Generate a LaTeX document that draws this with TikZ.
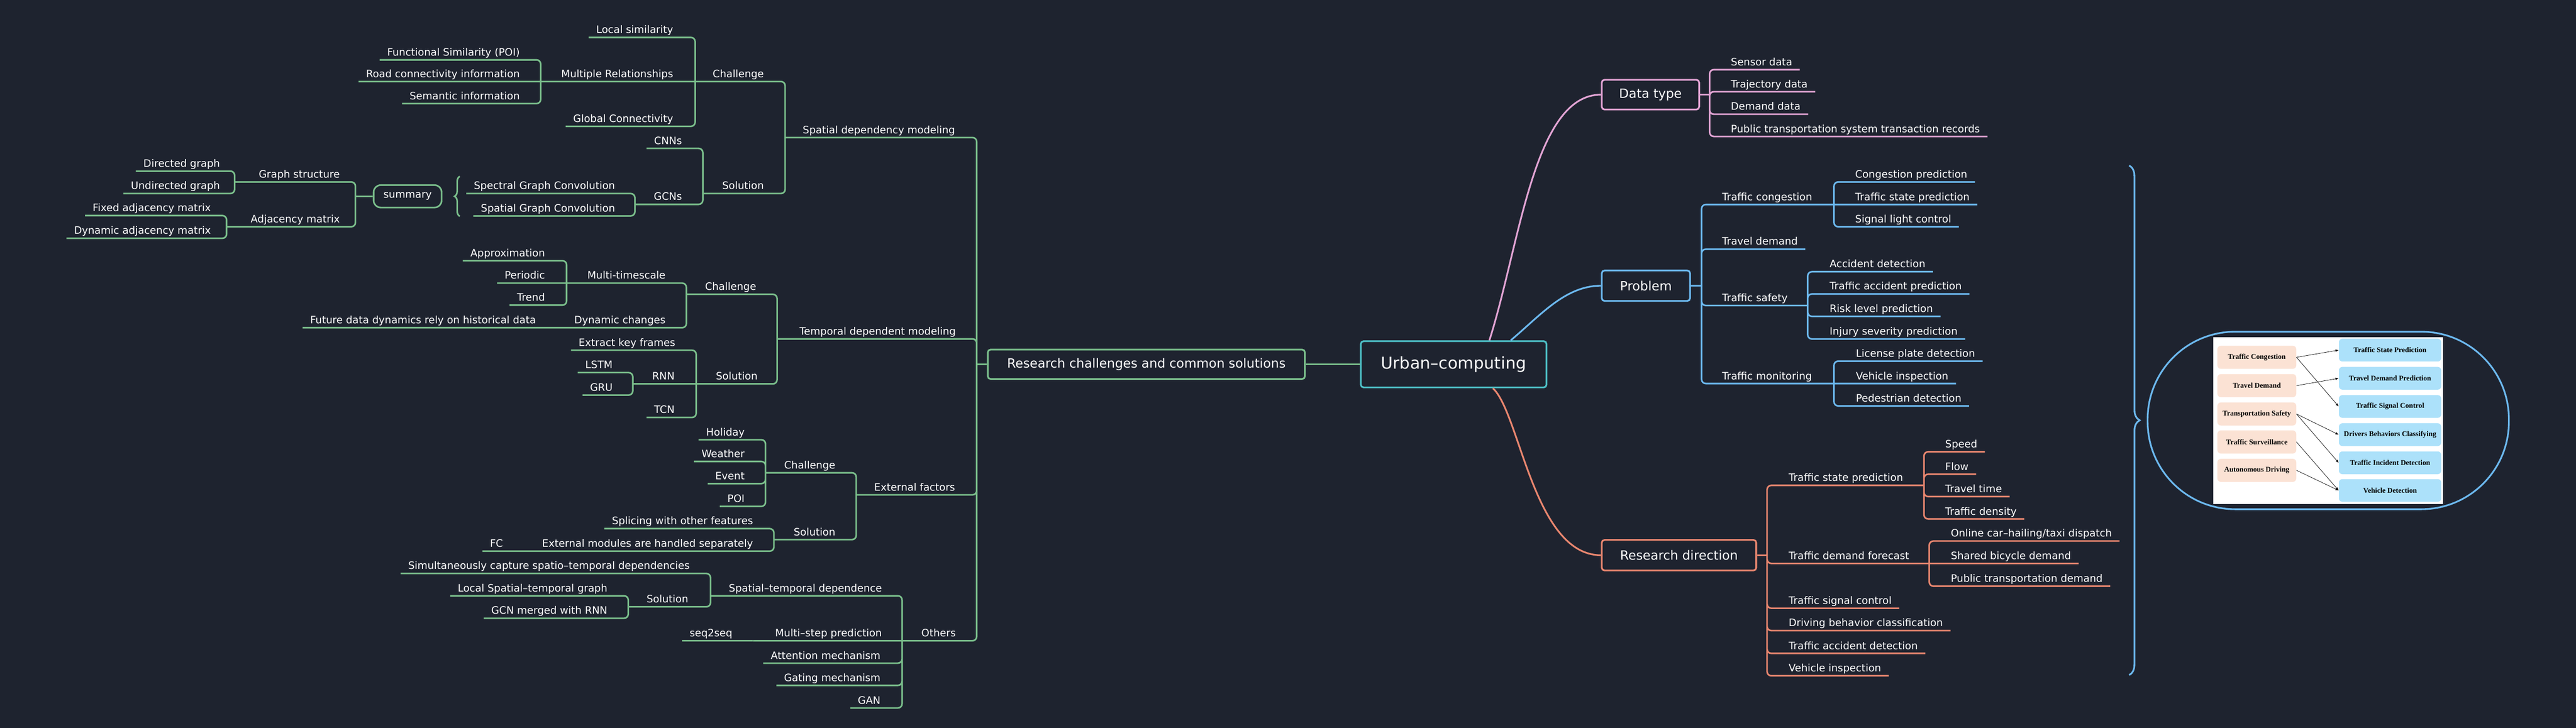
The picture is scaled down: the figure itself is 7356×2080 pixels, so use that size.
\documentclass[tikz,border=0pt]{standalone}
\usepackage{fontspec}
\setmainfont{DejaVu Sans}
\newfontfamily\imgfont{Liberation Serif}
\usepackage{tikz}
\usetikzlibrary{positioning}
\usetikzlibrary{decorations.pathreplacing}
\usetikzlibrary{arrows.meta}
\usepackage{color}
\definecolor{bgc}{RGB}{30,35,47}
\definecolor{grn}{RGB}{122,190,139}
\definecolor{tealc}{RGB}{77,190,197}
\definecolor{pnk}{RGB}{226,164,212}
\definecolor{blu}{RGB}{108,184,238}
\definecolor{org}{RGB}{232,134,111}
\definecolor{peach}{RGB}{251,226,212}
\definecolor{skyb}{RGB}{172,225,250}

\begin{document}
\begin{tikzpicture}[x=0.01cm, y=-0.01cm,
    lbl/.style={text=white, font=\fontsize{8.3}{10}\selectfont, inner xsep=0.21cm, inner ysep=0.04cm, text height=0.22cm, text depth=0.07cm},
    lt/.style={lbl, anchor=south east},
    rt/.style={lbl, anchor=south west},
    topic/.style={draw, line width=1.4pt, rounded corners=0.08cm, fill=bgc, text=white, font=\fontsize{10.3}{12}\selectfont, inner sep=0},
    br/.style={line width=1.3pt, rounded corners=0.12cm},
    pk/.style={fill=peach, rounded corners=0.1cm, minimum width=2.25cm, minimum height=0.66cm, inner sep=0, font=\imgfont\bfseries\fontsize{5.9}{7}\selectfont},
    sk/.style={fill=skyb, rounded corners=0.1cm, minimum width=2.92cm, minimum height=0.65cm, inner sep=0, font=\imgfont\bfseries\fontsize{5.9}{7}\selectfont}]
    \useasboundingbox (0,0) rectangle (7356,2080);
    \fill[bgc] (0,0) rectangle (7356,2080);

    % main topics
    \node[topic, draw=tealc, minimum width=5.3cm, minimum height=1.32cm, font=\fontsize{13.3}{16}\selectfont] (root) at (4151,1041) {Urban–computing};
    \node[topic, draw=grn, minimum width=9.05cm, minimum height=0.84cm] (rc) at (3273.5,1041) {Research challenges and common solutions};
    \node[topic, draw=pnk, minimum width=2.78cm, minimum height=0.85cm] (dt) at (4713,270.5) {Data type};
    \node[topic, draw=blu, minimum width=2.52cm, minimum height=0.87cm] (pb) at (4700,816.5) {Problem};
    \node[topic, draw=org, minimum width=4.41cm, minimum height=0.87cm] (rd) at (4794.5,1586.5) {Research direction};

    % spatial dependency modeling
    \node[lt] (sdm) at (2749,393) {Spatial dependency modeling};
    \node[lt] (c1) at (2203,233) {Challenge};
    \node[lt] (ls) at (1944,107) {Local similarity};
    \node[lt] (mr) at (1944,233) {Multiple Relationships};
    \node[lt] (fs) at (1506,171) {Functional Similarity (POI)};
    \node[lt] (rci) at (1506,233) {Road connectivity information};
    \node[lt] (si) at (1506,296) {Semantic information};
    \node[lt] (gc) at (1944,361) {Global Connectivity};
    \node[lt] (s1) at (2203,553) {Solution};
    \node[lt] (cnn) at (1969,424) {CNNs};
    \node[lt] (gcn) at (1969,584) {GCNs};
    \node[lt] (sgc1) at (1778,553) {Spectral Graph Convolution};
    \node[lt] (sgc2) at (1778,617) {Spatial Graph Convolution};
    \node[draw=grn, line width=1.3pt, rounded corners=0.2cm, text=white, font=\fontsize{8.3}{10}\selectfont, minimum width=1.94cm, minimum height=0.64cm, inner sep=0] (sum) at (1164,561) {summary};
    \node[lt] (gs) at (992,520) {Graph structure};
    \node[lt] (dg) at (650,489) {Directed graph};
    \node[lt] (ug) at (650,553) {Undirected graph};
    \node[lt] (am) at (992,648) {Adjacency matrix};
    \node[lt] (fam) at (624,616) {Fixed adjacency matrix};
    \node[lt] (dam) at (624,681) {Dynamic adjacency matrix};

    % temporal dependent modeling
    \node[lt] (tdm) at (2751,968.5) {Temporal dependent modeling};
    \node[lt] (c2) at (2181,841) {Challenge};
    \node[lt] (mt) at (1922,809) {Multi-timescale};
    \node[lt] (apx) at (1578,745) {Approximation};
    \node[lt] (per) at (1578,809) {Periodic};
    \node[lt] (trd) at (1578,872) {Trend};
    \node[lt] (dc) at (1922,936.5) {Dynamic changes};
    \node[lt] (fut) at (1552,936.5) {Future data dynamics rely on historical data};
    \node[lt] (s2) at (2185,1097) {Solution};
    \node[lt] (ekf) at (1950,1000.6) {Extract key frames};
    \node[lt] (rnn) at (1948,1097) {RNN};
    \node[lt] (lstm) at (1771,1064.7) {LSTM};
    \node[lt] (gru) at (1771,1129) {GRU};
    \node[lt] (tcn) at (1948,1193) {TCN};

    % external factors
    \node[lt] (ef) at (2749,1414) {External factors};
    \node[lt] (c3) at (2407,1351) {Challenge};
    \node[lt] (hol) at (2148,1256.5) {Holiday};
    \node[lt] (wea) at (2148,1318.6) {Weather};
    \node[lt] (evt) at (2148,1382) {Event};
    \node[lt] (poi) at (2148,1447) {POI};
    \node[lt] (s3) at (2407,1542) {Solution};
    \node[lt] (spl) at (2172,1510.6) {Splicing with other features};
    \node[lt] (em) at (2172,1575) {External modules are handled separately};
    \node[lt] (fc) at (1458,1575) {FC};

    % others
    \node[lt] (ot) at (2751,1831) {Others};
    \node[lt] (std) at (2540,1702.5) {Spatial–temporal dependence};
    \node[lt] (scs) at (1991,1638.7) {Simultaneously capture spatio–temporal dependencies};
    \node[lt] (s4) at (1987,1734) {Solution};
    \node[lt] (lstg) at (1756,1702.5) {Local Spatial–temporal graph};
    \node[lt] (gmr) at (1756,1766.7) {GCN merged with RNN};
    \node[lt] (ms) at (2540,1831) {Multi–step prediction};
    \node[lt] (s2s) at (2113,1831) {seq2seq};
    \node[lt] (att) at (2536,1895) {Attention mechanism};
    \node[lt] (gat) at (2536,1958.5) {Gating mechanism};
    \node[lt] (gan) at (2536,2023) {GAN};

    \coordinate (rc-j) at (2789,1041);
    \coordinate (sdm-j) at (2242,393);
    \coordinate (c1-j) at (1985,233);
    \coordinate (mr-j) at (1544,233);
    \coordinate (s1-j) at (2007,553);
    \coordinate (gcn-j) at (1813,584);
    \coordinate (sum-j) at (1015,561);
    \coordinate (gs-j) at (670,520);
    \coordinate (am-j) at (647,648);
    \coordinate (tdm-j) at (2219,968.5);
    \coordinate (c2-j) at (1960,841);
    \coordinate (mt-j) at (1618,809);
    \coordinate (dc-j) at (1592,936.5);
    \coordinate (s2-j) at (1988,1097);
    \coordinate (rnn-j) at (1807,1097);
    \coordinate (ef-j) at (2445,1414);
    \coordinate (c3-j) at (2186,1351);
    \coordinate (s3-j) at (2210,1542);
    \coordinate (em-j) at (1499,1575);
    \coordinate (ot-j) at (2576,1831);
    \coordinate (std-j) at (2029,1702.5);
    \coordinate (s4-j) at (1794,1734);
    \coordinate (ms-j) at (2150,1831);

    \draw[br, grn] (root.west) -- (rc.east);
    \draw[br, grn] (rc.west) -- (rc-j) (rc-j) |- (sdm-j) (rc-j) |- (tdm-j) (rc-j) |- (ef-j) (rc-j) |- (ot-j);
    \draw[br, grn] (sdm-j) |- (c1-j) (sdm-j) |- (s1-j);
    \draw[br, grn] (c1-j) |- (ls.south west) (c1-j) -- (mr-j) (c1-j) |- (gc.south west);
    \draw[br, grn] (mr-j) |- (fs.south west) (mr-j) -- (rci.south west) (mr-j) |- (si.south west);
    \draw[br, grn] (s1-j) |- (cnn.south west) (s1-j) |- (gcn-j);
    \draw[br, grn] (gcn-j) |- (sgc1.south west) (gcn-j) |- (sgc2.south west);
    \draw[grn, line width=1.3pt, decorate, decoration={brace, amplitude=0.15cm}] (1313,618) -- (1313,504);
    \draw[br, grn] (sum.west) -- (sum-j) (sum-j) |- (gs-j) (sum-j) |- (am-j);
    \draw[br, grn] (gs-j) |- (dg.south west) (gs-j) |- (ug.south west);
    \draw[br, grn] (am-j) |- (fam.south west) (am-j) |- (dam.south west);
    \draw[br, grn] (tdm-j) |- (c2-j) (tdm-j) |- (s2-j);
    \draw[br, grn] (c2-j) |- (mt-j) (c2-j) |- (dc-j) (dc-j) -- (fut.south west);
    \draw[br, grn] (mt-j) |- (apx.south west) (mt-j) -- (per.south west) (mt-j) |- (trd.south west);
    \draw[br, grn] (s2-j) |- (ekf.south west) (s2-j) -- (rnn-j) (s2-j) |- (tcn.south west);
    \draw[br, grn] (rnn-j) |- (lstm.south west) (rnn-j) |- (gru.south west);
    \draw[br, grn] (ef-j) |- (c3-j) (ef-j) |- (s3-j);
    \draw[br, grn] (c3-j) |- (hol.south west) (c3-j) |- (wea.south west) (c3-j) |- (evt.south west) (c3-j) |- (poi.south west);
    \draw[br, grn] (s3-j) |- (spl.south west) (s3-j) |- (em-j) (em-j) -- (fc.south west);
    \draw[br, grn] (ot-j) |- (std-j) (ot-j) -- (ms-j) (ot-j) |- (att.south west) (ot-j) |- (gat.south west) (ot-j) |- (gan.south west);
    \draw[br, grn] (std-j) |- (scs.south west) (std-j) |- (s4-j);
    \draw[br, grn] (s4-j) |- (lstg.south west) (s4-j) |- (gmr.south west);
    \draw[br, grn] (ms-j) -- (s2s.south west);

    % data type
    \node[rt] (sd) at (4921,199) {Sensor data};
    \node[rt] (tjd) at (4921,262) {Trajectory data};
    \node[rt] (dmd) at (4921,326.5) {Demand data};
    \node[rt] (pts) at (4921,390) {Public transportation system transaction records};
    \coordinate (dt-j) at (4882,270.5);
    \draw[pnk, line width=1.4pt] ([xshift=1.02cm]root.north) .. controls (4340,700) and (4380,270.5) .. (dt.west);
    \draw[br, pnk] (dt.east) -- (dt-j) (dt-j) |- (sd.south east) (dt-j) |- (tjd.south east) (dt-j) |- (dmd.south east) (dt-j) |- (pts.south east);

    % problem
    \node[rt] (tc) at (4896,584.5) {Traffic congestion};
    \node[rt] (cp) at (5276,520) {Congestion prediction};
    \node[rt] (tsp1) at (5276,584.5) {Traffic state prediction};
    \node[rt] (slc) at (5276,648) {Signal light control};
    \node[rt] (td) at (4896,712) {Travel demand};
    \node[rt] (ts) at (4896,873) {Traffic safety};
    \node[rt] (ad) at (5203,776.5) {Accident detection};
    \node[rt] (tap) at (5203,840) {Traffic accident prediction};
    \node[rt] (rlp) at (5203,904) {Risk level prediction};
    \node[rt] (isp) at (5203,968.6) {Injury severity prediction};
    \node[rt] (tm) at (4896,1096) {Traffic monitoring};
    \node[rt] (lpd) at (5278,1032) {License plate detection};
    \node[rt] (vi1) at (5278,1096) {Vehicle inspection};
    \node[rt] (pd) at (5278,1160) {Pedestrian detection};
    \coordinate (pb-j) at (4859,816.5);
    \coordinate (tc-j) at (5237,584.5);
    \coordinate (ts-j) at (5162,873);
    \coordinate (tm-j) at (5237,1096);
    \draw[blu, line width=1.4pt] ([xshift=1.63cm]root.north) .. controls (4400,900) and (4470,816.5) .. (pb.west);
    \draw[br, blu] (pb.east) -- (pb-j) (pb-j) |- (tc-j) (pb-j) |- (td.south east) (pb-j) |- (ts-j) (pb-j) |- (tm-j);
    \draw[br, blu] (tc-j) |- (cp.south east) (tc-j) -- (tsp1.south east) (tc-j) |- (slc.south east);
    \draw[br, blu] (ts-j) |- (ad.south east) (ts-j) |- (tap.south east) (ts-j) |- (rlp.south east) (ts-j) |- (isp.south east);
    \draw[br, blu] (tm-j) |- (lpd.south east) (tm-j) -- (vi1.south east) (tm-j) |- (pd.south east);

    % research direction
    \node[rt] (tsp2) at (5086,1387) {Traffic state prediction};
    \node[rt] (spd) at (5533,1291) {Speed};
    \node[rt] (flw) at (5533,1355) {Flow};
    \node[rt] (tt) at (5533,1419) {Travel time};
    \node[rt] (tdn) at (5533,1483) {Traffic density};
    \node[rt] (tdf) at (5086,1610) {Traffic demand forecast};
    \node[rt] (oct) at (5549,1546) {Online car–hailing/taxi dispatch};
    \node[rt] (sbd) at (5549,1610) {Shared bicycle demand};
    \node[rt] (ptd) at (5549,1675) {Public transportation demand};
    \node[rt] (tsc) at (5086,1738) {Traffic signal control};
    \node[rt] (dbc) at (5086,1802) {Driving behavior classification};
    \node[rt] (tad) at (5086,1867) {Traffic accident detection};
    \node[rt] (vi2) at (5086,1931) {Vehicle inspection};
    \coordinate (rd-j) at (5046,1586.5);
    \coordinate (tsp-j) at (5494,1387);
    \coordinate (tdf-j) at (5509,1610);
    \draw[org, line width=1.4pt] ([xshift=1.12cm]root.south) .. controls (4340,1180) and (4380,1586.5) .. (rd.west);
    \draw[br, org] (rd.east) -- (rd-j) (rd-j) |- (tsp-j) (rd-j) |- (tdf-j) (rd-j) |- (tsc.south east) (rd-j) |- (dbc.south east) (rd-j) |- (tad.south east) (rd-j) |- (vi2.south east);
    \draw[br, org] (tsp-j) |- (spd.south east) (tsp-j) |- (flw.south east) (tsp-j) |- (tt.south east) (tsp-j) |- (tdn.south east);
    \draw[br, org] (tdf-j) |- (oct.south east) (tdf-j) -- (sbd.south east) (tdf-j) |- (ptd.south east);

    % summary picture
    \draw[blu, line width=1.4pt, decorate, decoration={brace, amplitude=0.3cm}] (6080,473) -- (6080,1929);
    \node[draw=blu, line width=1.4pt, rounded corners=2.5cm, minimum width=10.31cm, minimum height=5.07cm, inner sep=0] (frm) at (6648.5,1201.5) {};
    \fill[white] (6320,964) rectangle (6977,1440);
    \node[pk] (a1) at (6444.5,1021) {Traffic Congestion};
    \node[pk] (a2) at (6444.5,1102) {Travel Demand};
    \node[pk] (a3) at (6444.5,1183) {Transportation Safety};
    \node[pk] (a4) at (6444.5,1263) {Traffic Surveillance};
    \node[pk] (a5) at (6444.5,1344) {Autonomous Driving};
    \node[sk] (b1) at (6825,1000.5) {Traffic State Prediction};
    \node[sk] (b2) at (6825,1081) {Travel Demand Prediction};
    \node[sk] (b3) at (6825,1161.5) {Traffic Signal Control};
    \node[sk] (b4) at (6825,1242) {Drivers Behaviors Classifying};
    \node[sk] (b5) at (6825,1322.5) {Traffic Incident Detection};
    \node[sk] (b6) at (6825,1401.5) {Vehicle Detection};
    \draw[-{Latex[length=0.09cm,width=0.07cm]}, line width=0.3pt] (a1.east) -- (b1.west);
    \draw[-{Latex[length=0.09cm,width=0.07cm]}, line width=0.3pt] (a1.east) -- (b3.west);
    \draw[-{Latex[length=0.09cm,width=0.07cm]}, line width=0.3pt] (a2.east) -- (b2.west);
    \draw[-{Latex[length=0.09cm,width=0.07cm]}, line width=0.3pt] (a3.east) -- (b4.west);
    \draw[-{Latex[length=0.09cm,width=0.07cm]}, line width=0.3pt] (a3.east) -- (b5.west);
    \draw[-{Latex[length=0.09cm,width=0.07cm]}, line width=0.3pt] (a4.east) -- (b6.west);
    \draw[-{Latex[length=0.09cm,width=0.07cm]}, line width=0.3pt] (a5.east) -- (b6.west);
\end{tikzpicture}
\end{document}
